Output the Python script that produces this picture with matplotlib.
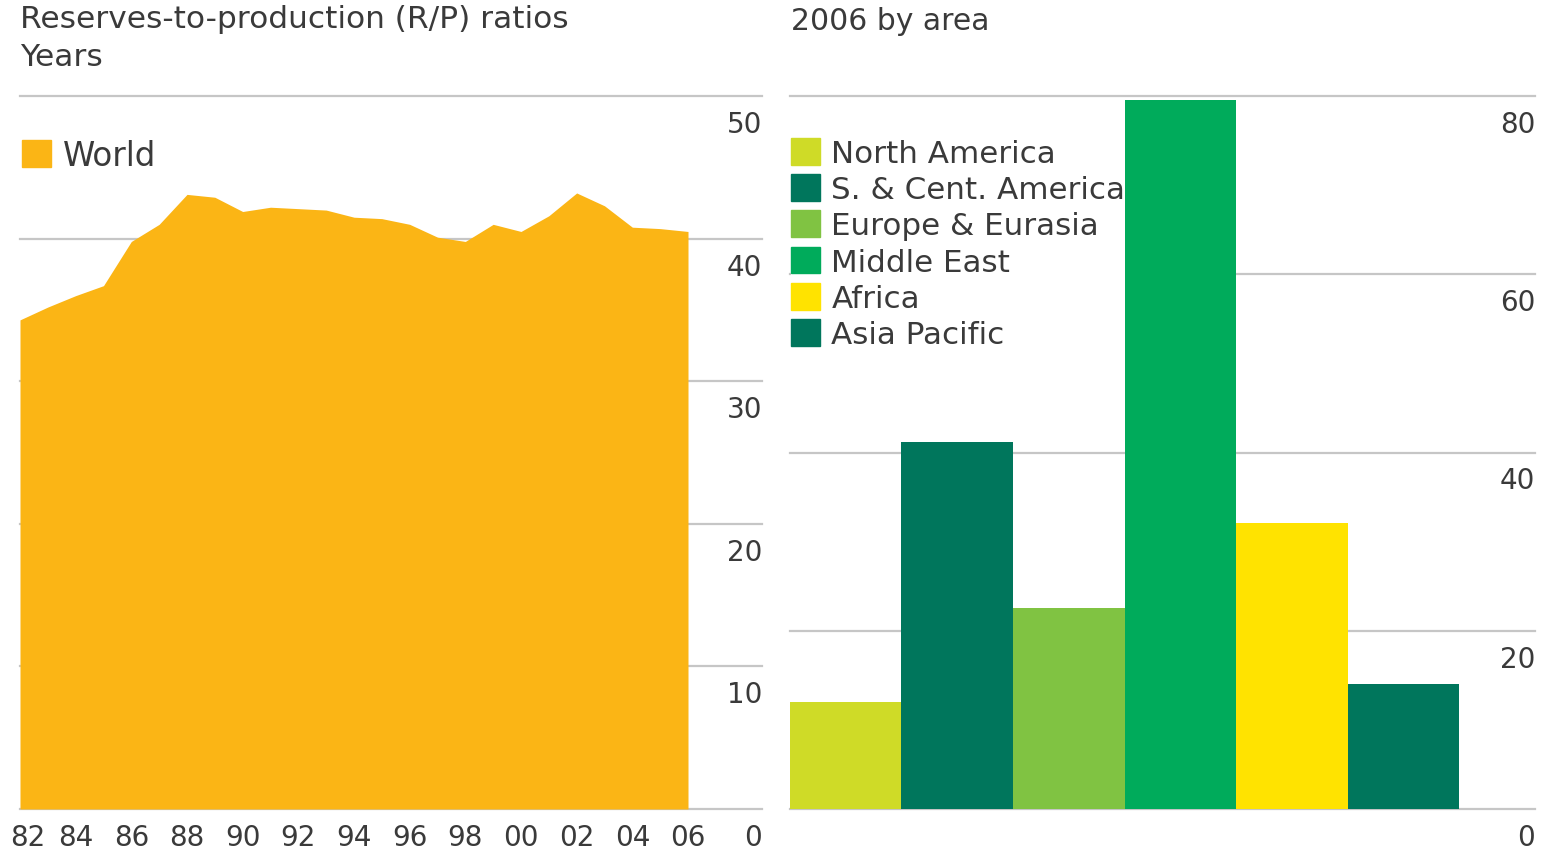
#
# R/P ratios: world history (area) and 2006 by region (bars)
from matplotlib import pyplot as plt
from matplotlib.patches import Patch
import matplotlib.transforms as mtransforms
import numpy as np

plt.rcParams['font.family'] = ['DejaVu Sans']

# world R/P ratio, years
years = list(range(1982, 2007))
world = [34.3, 35.2, 36.0, 36.7, 39.8, 41.0, 43.1, 42.9, 41.9, 42.2, 42.1,
         42.0, 41.5, 41.4, 41.0, 40.1, 39.8, 41.0, 40.5, 41.6, 43.2, 42.3,
         40.8, 40.7, 40.5]
year_ticks = list(range(1982, 2007, 2))
year_labels = ["%02d" % (y % 100) for y in year_ticks]
left_ticks = [0, 10, 20, 30, 40, 50]

# 2006 by area
areas = ["North America", "S. & Cent. America", "Europe & Eurasia",
         "Middle East", "Africa", "Asia Pacific"]
area_rp = [12.0, 41.2, 22.5, 79.5, 32.1, 14.0]
area_colors = ["#cfdb27", "#00765c", "#80c342", "#00ab5b", "#ffe300", "#00765c"]
right_ticks = [0, 20, 40, 60, 80]

TXT = "#3a3a3a"
GRID = "#c6c6c6"
W, H = 1542, 853

fig = plt.figure(figsize=(15.42, 8.53), dpi=100)

def fx(px):
    return px / W

def fy(py):
    return 1 - py / H

ax1 = fig.add_axes([fx(20), fy(810), fx(762) - fx(20), fy(97) - fy(810)])
ax2 = fig.add_axes([fx(790), fy(810), fx(1535) - fx(790), fy(97) - fy(810)])

for ax in (ax1, ax2):
    for s in ax.spines.values():
        s.set_visible(False)
    ax.set_yticks([])
    ax.patch.set_alpha(0)

# ---- left: world area
px_per_year = (688 - 20) / 24.0
ax1.set_xlim(1982, 1982 + 742 / px_per_year)
ax1.set_ylim(0, 50)
for v in left_ticks:
    ax1.axhline(v, color=GRID, lw=1.6, zorder=0, clip_on=False)
ax1.fill_between(years, world, 0, color="#fbb515", lw=0, zorder=2)

down = mtransforms.ScaledTranslation(0, -14 / 100, fig.dpi_scale_trans)
for v in left_ticks:
    ax1.text(1.0, v, str(v), transform=ax1.get_yaxis_transform() + down,
             ha="right", va="top", fontsize=20, color=TXT)

ax1.set_xticks(year_ticks)
ax1.set_xticklabels(year_labels, fontsize=20, color=TXT)
ax1.tick_params(axis="x", length=0, pad=10)
first = ax1.get_xticklabels()[0]
first.set_transform(first.get_transform() +
                    mtransforms.ScaledTranslation(8 / 100, 0, fig.dpi_scale_trans))

fig.text(fx(20), fy(20), "Reserves-to-production (R/P) ratios", fontsize=22.5,
         color=TXT, va="center", ha="left")
fig.text(fx(20), fy(57), "Years", fontsize=22.5, color=TXT, va="center", ha="left")

leg1 = ax1.legend([Patch(color="#fbb515")], ["World"], loc="upper left",
                  bbox_to_anchor=(fx(22), fy(140)), bbox_transform=fig.transFigure,
                  frameon=False, fontsize=23.5, handlelength=0.9, handleheight=0.9,
                  handletextpad=0.35, borderpad=0, borderaxespad=0)
for t in leg1.get_texts():
    t.set_color(TXT)

# ---- right: bars by area
xpos = np.arange(len(areas))
ax2.set_xlim(0, (1535 - 790) / ((1459 - 790) / 6.0))
ax2.set_ylim(0, 80)
for v in right_ticks:
    ax2.axhline(v, color=GRID, lw=1.6, zorder=0, clip_on=False)
ax2.bar(xpos, area_rp, width=1.0, align="edge", color=area_colors, lw=0, zorder=2)
ax2.set_xticks([])
for v in right_ticks:
    ax2.text(1.0, v, str(v), transform=ax2.get_yaxis_transform() + down,
             ha="right", va="top", fontsize=20, color=TXT)

fig.text(fx(791), fy(22), "2006 by area", fontsize=21.5, color=TXT,
         va="center", ha="left")

handles = [Patch(color=c) for c in area_colors]
leg2 = ax2.legend(handles, areas, loc="upper left",
                  bbox_to_anchor=(fx(791), fy(139)), bbox_transform=fig.transFigure,
                  frameon=True, facecolor="white", edgecolor="none", framealpha=1,
                  fontsize=22.3, handlelength=0.95, handleheight=0.95,
                  handletextpad=0.35, labelspacing=0.2, borderpad=0,
                  borderaxespad=0)
leg2.set_zorder(1)
for t in leg2.get_texts():
    t.set_color(TXT)

fig.savefig("out.png", dpi=100)
